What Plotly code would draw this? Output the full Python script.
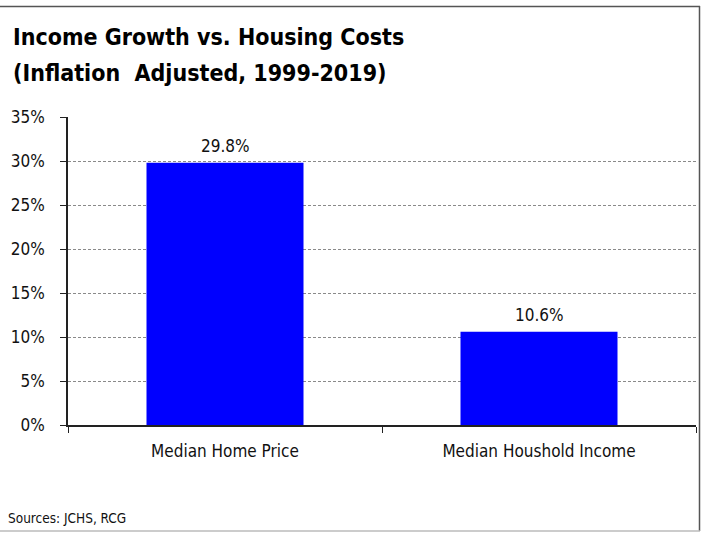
import plotly.graph_objects as go

categories = ["Median Home Price", "Median Houshold Income"]
values = [29.8, 10.6]
labels = ["29.8%", "10.6%"]
tick_vals = [0, 5, 10, 15, 20, 25, 30, 35]
tick_text = ["0%", "5%", "10%", "15%", "20%", "25%", "30%", "35%"]
title_lines = ["<b>Income Growth vs. Housing Costs</b>", "<b>(Inflation  Adjusted, 1999-2019)</b>"]
source_text = "Sources: JCHS, RCG"

FONT = "DejaVu Sans Condensed, Liberation Sans Narrow, Arial Narrow, sans-serif"

fig = go.Figure()
fig.add_trace(go.Bar(
    x=categories, y=values,
    marker=dict(color="#0000ff", line=dict(width=0)),
    width=0.5, hoverinfo="skip",
))

W, H = 702, 533
L, R, T, B = 68, 6, 117, 108
pw, ph = W - L - R, H - T - B

def px(x):
    return (x - L) / pw

def py(y):
    return (H - B - y) / ph

annotations = [
    dict(x=c, y=v, text=t, xref="x", yref="y", showarrow=False,
         yanchor="middle", yshift=17,
         font=dict(family=FONT, size=17, color="#111"))
    for c, v, t in zip(categories, values, labels)
]
annotations += [
    dict(text=title_lines[0], xref="paper", yref="paper", x=px(11), y=py(37),
         xanchor="left", yanchor="middle", showarrow=False,
         font=dict(family=FONT, size=23, color="#000")),
    dict(text=title_lines[1], xref="paper", yref="paper", x=px(11), y=py(73),
         xanchor="left", yanchor="middle", showarrow=False,
         font=dict(family=FONT, size=23, color="#000")),
    dict(text=source_text, xref="paper", yref="paper",
         x=px(6), y=py(518), xanchor="left", yanchor="middle", showarrow=False,
         font=dict(family=FONT, size=13.5, color="#111")),
]

fig.update_layout(
    width=W, height=H,
    margin=dict(l=L, r=R, t=T, b=B),
    plot_bgcolor="white", paper_bgcolor="white",
    showlegend=False,
    font=dict(family=FONT, size=16, color="#111"),
    xaxis=dict(
        showline=True, linecolor="#222", linewidth=1.5,
        ticks="outside", tickson="boundaries", ticklen=6, tickcolor="#222",
        tickfont=dict(family=FONT, size=17, color="#111"),
        ticklabelstandoff=10,
        showgrid=False,
    ),
    yaxis=dict(
        range=[0, 35], tickvals=tick_vals, ticktext=tick_text,
        showline=True, linecolor="#222", linewidth=1.5,
        ticks="outside", ticklen=6, tickcolor="#222",
        tickfont=dict(family=FONT, size=17, color="#111"),
        ticklabelstandoff=12,
        showgrid=True, gridcolor="#8a8a8a", griddash="3px,2px", gridwidth=1,
        zeroline=False,
    ),
    annotations=annotations,
    shapes=[
        dict(type="line", xref="paper", yref="paper", x0=px(0), x1=px(700), y0=py(6.5), y1=py(6.5),
             line=dict(color="#555", width=1.5)),
        dict(type="line", xref="paper", yref="paper", x0=px(699.5), x1=px(699.5), y0=py(6), y1=py(531),
             line=dict(color="#555", width=1.5)),
        dict(type="line", xref="paper", yref="paper", x0=px(0), x1=px(700), y0=py(531), y1=py(531),
             line=dict(color="#bbb", width=1.5)),
    ],
)

fig.write_html("out.html", config={"displayModeBar": False},
               post_script="document.body.style.margin='0';")
